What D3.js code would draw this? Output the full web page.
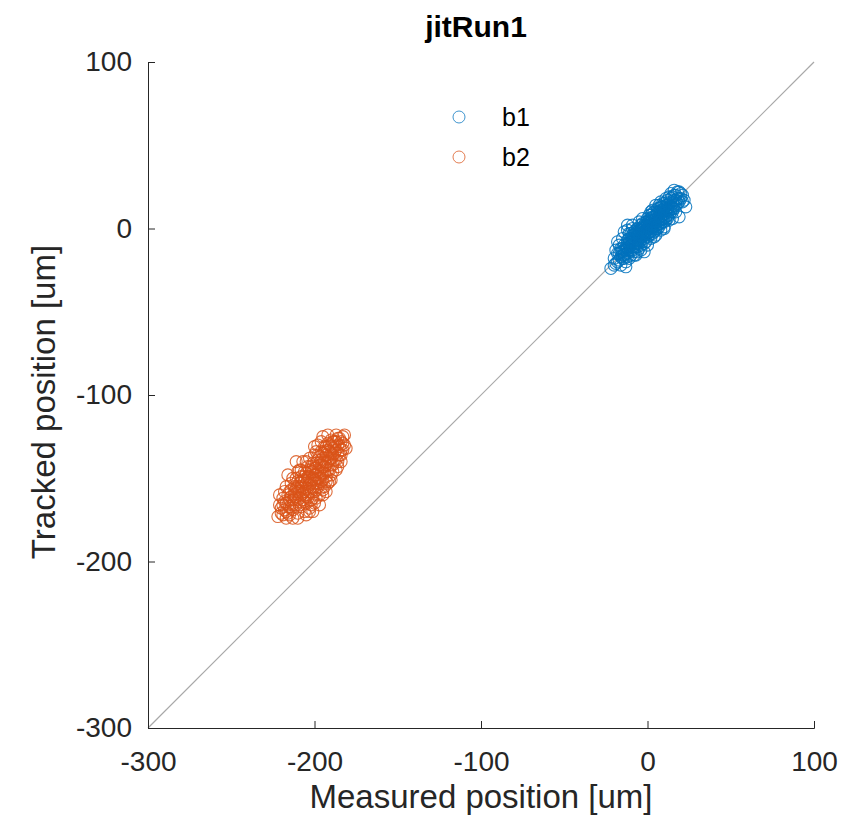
<!DOCTYPE html>
<html>
<head>
<meta charset="utf-8">
<script src="https://cdn.jsdelivr.net/npm/d3@7"></script>
<style>
  body { margin: 0; background: #fff; }
  text { font-family: "Liberation Sans", Arial, Helvetica, sans-serif; fill: #262626; }
</style>
</head>
<body>
<div id="chart"></div>
<script>
// Data: [measured, tracked] pairs in um
var b1Points = [
  [-22,-24],[-19,-21],[-18,-15],[-17,-19],[-16,-12],[-15,-18],[-15,-14],[-14,-10],[-14,-16],[-13,-20],
  [-13,-13],[-12,-9],[-12,-15],[-11,-11],[-11,-6],[-10,-13],[-10,-8],[-10,-3],[-9,-11],[-9,-6],
  [-8,-14],[-8,-9],[-8,-4],[-7,-7],[-7,-1],[-7,-11],[-6,-5],[-6,-9],[-6,0],[-5,-3],
  [-5,-7],[-5,-12],[-4,-1],[-4,-5],[-4,2],[-3,-3],[-3,-8],[-3,3],[-2,0],[-2,-4],
  [-2,-9],[-1,1],[-1,-2],[-1,4],[0,-1],[0,3],[0,-5],[0,6],[1,2],[1,-2],
  [1,5],[2,0],[2,4],[2,8],[3,1],[3,5],[3,-3],[4,3],[4,7],[4,10],
  [5,2],[5,6],[5,-1],[6,4],[6,9],[6,12],[7,5],[7,1],[7,10],[8,7],
  [8,3],[8,13],[9,8],[9,11],[9,4],[10,6],[10,12],[10,15],[11,9],[11,5],
  [12,11],[12,14],[12,17],[13,8],[13,13],[14,16],[14,10],[15,12],[15,19],[16,14],
  [16,20],[17,17],[18,15],[18,22],[19,18],[20,21],[21,16],[23,13],[-18,-8],[-13,-23],
  [-6,-14],[2,-6],[-9,2],[5,14],[11,18],[17,10],[15,6],[-20,-18],[-16,-22],[-12,2],
  [-14,-2],[-2,-14],[19,7],[16,23],[-11,-18],[3,11],[8,-1],[-4,-10],[13,19],[-17,-10],
  [-16,-17],[-15,-16],[-14,-13],[-13,-15],[-13,-11],[-12,-12],[-12,-7],[-11,-13],[-11,-9],[-10,-10],
  [-10,-6],[-9,-8],[-9,-13],[-9,-4],[-8,-7],[-8,-11],[-8,-2],[-7,-5],[-7,-9],[-7,-3],
  [-6,-7],[-6,-3],[-6,-11],[-5,-5],[-5,-1],[-5,-9],[-4,-3],[-4,-7],[-4,0],[-3,-1],
  [-3,-5],[-3,1],[-2,-2],[-2,-6],[-2,2],[-1,-1],[-1,-4],[-1,2],[0,0],[0,-3],
  [0,2],[0,4],[1,0],[1,3],[1,-4],[2,2],[2,-2],[2,6],[3,3],[3,-1],
  [3,7],[4,1],[4,5],[4,-2],[5,4],[5,8],[5,0],[6,6],[6,2],[6,10],
  [7,7],[7,3],[7,12],[8,9],[8,5],[8,11],[9,10],[9,6],[9,13],[10,9],
  [10,11],[10,4],[11,11],[11,7],[11,14],[12,12],[12,8],[13,11],[13,15],[14,13],
  [14,18],[15,15],[15,10],[16,17],[16,12],[17,14],[17,20],[18,18],[19,16],[20,18],
  [-17,-15],[-16,-14],[-15,-12],[-14,-18],[-12,-17],[-11,-3],[-10,-16],[-8,-16],[-6,-2],[-4,-13],
  [1,8],[2,10],[3,9],[4,-5],[6,0],[7,14],[9,15],[10,1],[12,6],[14,21],
  [-19,-13],[-18,-20],[-20,-22],[21,20],[22,17],[19,22],[-1,-8],[0,-10],[-7,-16],[-3,6],
  [-12,-1],[-9,0],[-15,-6],[5,-4],[10,0],[13,5],[-5,4],[8,16]
];

var b2Points = [
  [-222,-173],[-220,-168],[-219,-172],[-218,-164],[-217,-170],[-216,-160],[-215,-167],[-215,-172],[-214,-157],[-213,-163],
  [-213,-169],[-212,-155],[-212,-160],[-211,-166],[-210,-152],[-210,-158],[-210,-171],[-209,-162],[-208,-149],[-208,-155],
  [-208,-167],[-207,-159],[-206,-146],[-206,-152],[-206,-164],[-205,-156],[-205,-161],[-204,-143],[-204,-149],[-203,-154],
  [-203,-168],[-202,-146],[-202,-151],[-202,-158],[-201,-141],[-201,-162],[-200,-148],[-200,-153],[-200,-136],[-199,-144],
  [-199,-157],[-198,-139],[-198,-150],[-197,-146],[-197,-160],[-196,-134],[-196,-142],[-196,-152],[-195,-138],[-195,-147],
  [-194,-131],[-194,-143],[-194,-155],[-193,-136],[-193,-149],[-192,-140],[-192,-129],[-191,-145],[-191,-134],[-190,-138],
  [-190,-127],[-189,-142],[-189,-132],[-188,-135],[-187,-124],[-187,-139],[-186,-130],[-185,-126],[-184,-133],[-183,-129],
  [-182,-124],[-181,-132],[-221,-160],[-217,-155],[-210,-174],[-205,-172],[-200,-165],[-207,-140],[-198,-130],[-191,-152],
  [-186,-143],[-213,-150],[-218,-158],[-213,-174],[-195,-125],[-190,-148],[-203,-138],[-209,-145],[-197,-166],[-184,-140],
  [-216,-148],[-204,-160],[-199,-134],[-193,-158],[-188,-128],[-211,-140],[-219,-166],[-201,-170],[-196,-128],[-185,-136],
  [-218,-169],[-217,-165],[-216,-171],[-216,-166],[-215,-163],[-214,-168],[-214,-161],[-213,-166],[-212,-163],[-212,-158],
  [-211,-161],[-211,-156],[-210,-163],[-210,-155],[-209,-158],[-209,-153],[-209,-166],[-208,-160],[-208,-152],[-207,-156],
  [-207,-151],[-207,-163],[-206,-158],[-206,-149],[-205,-153],[-205,-147],[-205,-165],[-204,-156],[-204,-151],[-204,-162],
  [-203,-149],[-203,-145],[-203,-158],[-202,-153],[-202,-143],[-202,-163],[-201,-150],[-201,-146],[-201,-156],[-200,-151],
  [-200,-144],[-200,-158],[-199,-148],[-199,-141],[-199,-153],[-198,-145],[-198,-136],[-198,-155],[-197,-142],[-197,-150],
  [-197,-137],[-196,-147],[-196,-139],[-196,-156],[-195,-143],[-195,-135],[-195,-151],[-194,-140],[-194,-147],[-194,-134],
  [-193,-142],[-193,-131],[-193,-152],[-192,-137],[-192,-145],[-192,-133],[-191,-139],[-191,-130],[-190,-135],[-190,-142],
  [-190,-131],[-189,-136],[-189,-128],[-188,-131],[-188,-139],[-187,-133],[-187,-128],[-186,-135],[-186,-126],[-185,-131],
  [-184,-128],[-184,-136],[-183,-125],[-183,-133],[-182,-130],[-220,-171],[-219,-162],[-221,-166],[-217,-174],[-215,-158],
  [-211,-150],[-208,-145],[-206,-170],[-202,-166],[-199,-162],[-195,-160],[-192,-153],[-189,-146],[-186,-140],[-192,-124],
  [-205,-140],[-210,-146],[-195,-157],[-190,-151],[-200,-131],[-187,-145],[-214,-153],[-203,-170]
];

var seriesNames = ["b1", "b2"];
var seriesColors = ["#0072BD", "#D95319"];
var tickValues = [-300, -200, -100, 0, 100];
var axisDomain = [-300, 100];

var svgWidth = 866;
var svgHeight = 815;

var margin = { top: 62, right: 52, bottom: 87, left: 148 };
var chartWidth = svgWidth - margin.left - margin.right;
var chartHeight = svgHeight - margin.top - margin.bottom;

var svg = d3.select("#chart")
  .append("svg")
  .attr("width", svgWidth)
  .attr("height", svgHeight);

var chartGroup = svg.append("g")
  .attr("transform", `translate(${margin.left}, ${margin.top})`);

var xScale = d3.scaleLinear().domain(axisDomain).range([0, chartWidth]);
var yScale = d3.scaleLinear().domain(axisDomain).range([chartHeight, 0]);

// identity line
chartGroup.append("line")
  .attr("x1", xScale(axisDomain[0]))
  .attr("y1", yScale(axisDomain[0]))
  .attr("x2", xScale(axisDomain[1]))
  .attr("y2", yScale(axisDomain[1]))
  .attr("stroke", "#a8a8a8")
  .attr("stroke-width", 1.2);

// scatter series
[b1Points, b2Points].forEach(function(pts, i) {
  chartGroup.append("g")
    .selectAll("circle")
    .data(pts)
    .enter().append("circle")
    .attr("cx", d => xScale(d[0]))
    .attr("cy", d => yScale(d[1]))
    .attr("r", 6)
    .attr("fill", "none")
    .attr("stroke", seriesColors[i])
    .attr("stroke-opacity", 0.85)
    .attr("stroke-width", 1.1);
});

// axes with inward ticks, plain hyphen minus like the original
var fmt = d => String(d);
var bottomAxis = d3.axisBottom(xScale).tickValues(tickValues).tickSize(-7).tickPadding(16).tickFormat(fmt);
var leftAxis = d3.axisLeft(yScale).tickValues(tickValues).tickSize(-7).tickPadding(16).tickFormat(fmt);

var xAxisG = chartGroup.append("g")
  .attr("transform", `translate(0, ${chartHeight})`)
  .call(bottomAxis);

var yAxisG = chartGroup.append("g")
  .call(leftAxis);

[xAxisG, yAxisG].forEach(function(g) {
  g.select(".domain").attr("stroke", "#262626").attr("stroke-width", 1);
  g.selectAll(".tick line").attr("stroke", "#262626");
  g.selectAll(".tick text")
    .attr("fill", "#262626")
    .style("font-size", "28px")
    .style("font-family", "'Liberation Sans', Arial, sans-serif");
});
xAxisG.selectAll(".tick text").attr("dy", "0.95em");

// title
svg.append("text")
  .attr("x", 476)
  .attr("y", 37)
  .attr("text-anchor", "middle")
  .style("font-size", "30px")
  .style("font-weight", "bold")
  .style("fill", "#000")
  .text("jitRun1");

// x axis label
svg.append("text")
  .attr("x", margin.left + chartWidth / 2)
  .attr("y", 808)
  .attr("text-anchor", "middle")
  .style("font-size", "33px")
  .text("Measured position [um]");

// y axis label
svg.append("text")
  .attr("transform", "rotate(-90)")
  .attr("x", -(margin.top + chartHeight / 2 + 7))
  .attr("y", 55)
  .attr("text-anchor", "middle")
  .style("font-size", "33px")
  .text("Tracked position [um]");

// legend
var legend = svg.append("g");
seriesNames.forEach(function(name, i) {
  var ly = 117 + i * 40;
  legend.append("circle")
    .attr("cx", 459)
    .attr("cy", ly)
    .attr("r", 6)
    .attr("fill", "none")
    .attr("stroke", seriesColors[i])
    .attr("stroke-opacity", 0.75);
  legend.append("text")
    .attr("x", 502)
    .attr("y", ly)
    .attr("dy", "0.35em")
    .style("font-size", "25px")
    .style("fill", "#000")
    .text(name);
});
</script>
</body>
</html>
